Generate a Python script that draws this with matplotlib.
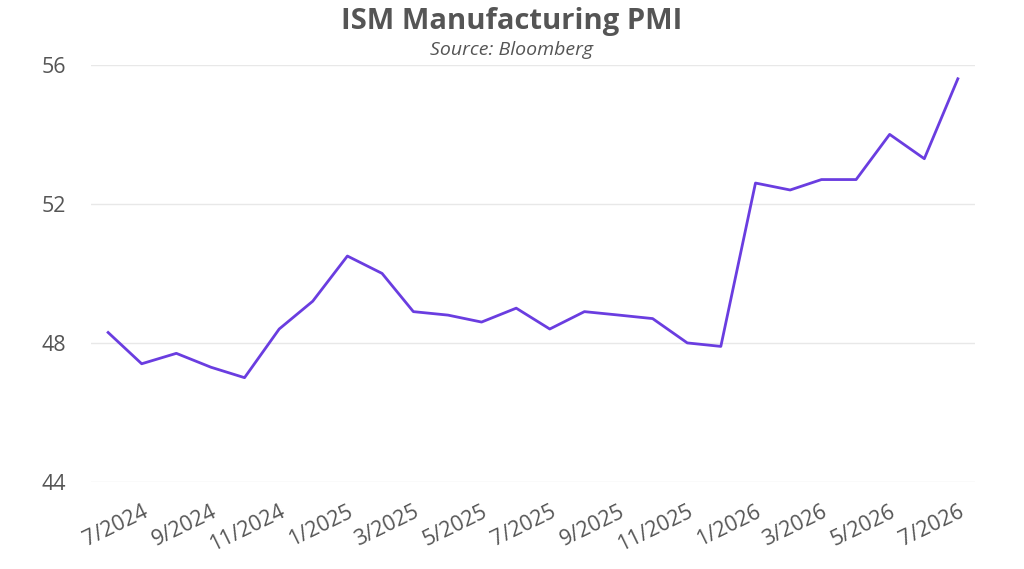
import pandas as pd
import matplotlib
matplotlib.use("Agg")
import matplotlib.pyplot as plt
import matplotlib.dates as mdates
from matplotlib.ticker import FuncFormatter

# ISM PMI, mensuel de 6/2024 a 7/2026
months = pd.date_range("2024-06-01", "2026-07-01", freq="MS")
pmi = [48.3, 47.4, 47.7, 47.3, 47.0, 48.4, 49.2, 50.5, 50.0, 48.9,
       48.8, 48.6, 49.0, 48.4, 48.9, 48.8, 48.7, 48.0, 47.9, 52.6,
       52.4, 52.7, 52.7, 54.0, 53.3, 55.6]
y_ticks = [44, 48, 52, 56]

plt.rcParams['font.family'] = ['Open Sans', 'DejaVu Sans']

fig = plt.figure(figsize=(10.24, 5.69), dpi=100)
ax = fig.add_axes([0.089, 0.153, 0.863, 0.733])

ax.plot(months, pmi, color='#6A3DE0', linewidth=2)

ax.set_ylim(44, 56)
ax.set_yticks(y_ticks)
ax.grid(axis='y', color='#E8E8E8', linewidth=1)
ax.set_axisbelow(True)
ax.margins(x=0.02)

ax.xaxis.set_major_locator(mdates.MonthLocator(bymonth=[1, 3, 5, 7, 9, 11]))
ax.xaxis.set_major_formatter(FuncFormatter(
    lambda v, pos: f"{mdates.num2date(v).month}/{mdates.num2date(v).year}"))

for s in ax.spines.values():
    s.set_visible(False)
ax.tick_params(axis='both', length=0, labelsize=15.5, colors='#555555')
ax.tick_params(axis='y', pad=18)
ax.tick_params(axis='x', pad=14)
for lbl in ax.get_xticklabels():
    lbl.set_rotation(26)
    lbl.set_ha('right')
    lbl.set_rotation_mode('anchor')

fig.text(0.5, 0.962, "ISM Manufacturing PMI", ha='center', va='center',
         fontsize=21, fontweight='bold', color='#555555')
fig.text(0.5, 0.912, "Source: Bloomberg", ha='center', va='center',
         fontsize=14, style='italic', color='#555555')

fig.savefig("out.png", dpi=100)
